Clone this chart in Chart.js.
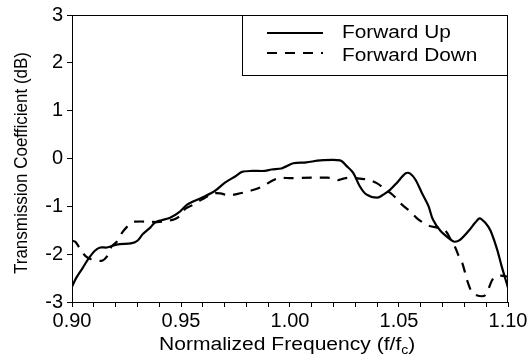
<!DOCTYPE html>
<html>
<head>
<meta charset="utf-8">
<script src="https://cdn.jsdelivr.net/npm/chart.js@4/dist/chart.umd.min.js"></script>
<style>
    body { margin: 0; background: #fff; }
    #wrap { width: 528px; height: 360px; }
</style>
</head>
<body>
<div id="wrap"><canvas id="chart" width="528" height="360"></canvas></div>
<script>
// --- Data ---
const upFreq = [0.900, 0.902, 0.905, 0.9075, 0.9105, 0.913, 0.916, 0.9205, 0.9275, 0.930, 0.9325, 0.936, 0.938, 0.941, 0.945, 0.9495, 0.953, 0.9595, 0.9655, 0.970, 0.975, 0.978, 0.9825, 0.9885, 0.9915, 0.996, 0.998, 1.0015, 1.0075, 1.014, 1.023, 1.026, 1.029, 1.032, 1.035, 1.040, 1.043, 1.046, 1.049, 1.053, 1.055, 1.0575, 1.0605, 1.0635, 1.0655, 1.069, 1.0735, 1.0755, 1.078, 1.082, 1.085, 1.087, 1.0895, 1.092, 1.095, 1.097, 1.100];
const upLoss = [-2.68, -2.49, -2.28, -2.10, -1.93, -1.86, -1.86, -1.80, -1.77, -1.72, -1.58, -1.44, -1.34, -1.29, -1.24, -1.11, -0.96, -0.82, -0.68, -0.51, -0.37, -0.28, -0.26, -0.26, -0.23, -0.21, -0.17, -0.10, -0.08, -0.04, -0.04, -0.16, -0.30, -0.58, -0.75, -0.82, -0.75, -0.65, -0.51, -0.31, -0.31, -0.44, -0.72, -0.99, -1.27, -1.51, -1.69, -1.74, -1.70, -1.51, -1.34, -1.25, -1.34, -1.51, -1.90, -2.24, -2.70];

const downFreq = [0.900, 0.9015, 0.9025, 0.9045, 0.9065, 0.9085, 0.911, 0.9136, 0.916, 0.918, 0.9205, 0.923, 0.925, 0.9275, 0.929, 0.936, 0.939, 0.943, 0.947, 0.950, 0.952, 0.955, 0.9595, 0.965, 0.968, 0.972, 0.976, 0.979, 0.983, 0.987, 0.992, 0.995, 1.000, 1.010, 1.017, 1.0205, 1.022, 1.0245, 1.0275, 1.032, 1.0365, 1.040, 1.043, 1.046, 1.048, 1.050, 1.052, 1.055, 1.058, 1.061, 1.064, 1.067, 1.070, 1.072, 1.074, 1.0757, 1.0775, 1.079, 1.0805, 1.0815, 1.0835, 1.0856, 1.088, 1.0895, 1.091, 1.0933, 1.0963, 1.0985, 1.100];
const downLoss = [-1.72, -1.74, -1.80, -1.95, -2.05, -2.10, -2.12, -2.14, -2.05, -1.85, -1.74, -1.55, -1.44, -1.34, -1.32, -1.32, -1.33, -1.31, -1.27, -1.18, -1.05, -0.98, -0.86, -0.73, -0.73, -0.77, -0.74, -0.71, -0.66, -0.59, -0.46, -0.41, -0.41, -0.40, -0.40, -0.42, -0.45, -0.42, -0.40, -0.42, -0.45, -0.52, -0.62, -0.72, -0.80, -0.90, -0.99, -1.10, -1.24, -1.34, -1.41, -1.44, -1.46, -1.55, -1.72, -1.85, -2.05, -2.18, -2.42, -2.58, -2.80, -2.86, -2.88, -2.86, -2.73, -2.50, -2.45, -2.46, -2.47];

const seriesLabels = ['Forward Up', 'Forward Down'];
const xMajorTicks = [0.90, 0.95, 1.00, 1.05, 1.10];
const yMajorTicks = [-3, -2, -1, 0, 1, 2, 3];

const FONT = '"Liberation Sans", Arial, Helvetica, sans-serif';

function toPoints(xs, ys) {
    return xs.map((x, i) => ({ x: x, y: ys[i] }));
}

// draw text stretched horizontally like the scanned figure
function wideText(ctx, text, x, y, size, k, align) {
    ctx.save();
    ctx.font = size + 'px ' + FONT;
    const w = ctx.measureText(text).width * k;
    ctx.translate(align === 'center' ? x - w / 2 : x, y);
    ctx.scale(k, 1);
    ctx.textAlign = 'left';
    ctx.fillText(text, 0, 0);
    ctx.restore();
    return w;
}

// --- frame, titles and legend ---
const decorPlugin = {
    id: 'decor',
    afterDraw(chart) {
        const ctx = chart.ctx;
        const a = chart.chartArea;
        ctx.save();
        ctx.strokeStyle = '#000';
        ctx.lineWidth = 1;
        ctx.strokeRect(Math.round(a.left) + 0.5, Math.round(a.top) + 0.5,
            Math.round(a.right - a.left) - 1, Math.round(a.bottom - a.top));
        ctx.fillStyle = '#000';
        ctx.textBaseline = 'alphabetic';

        // x title with subscript c
        let x = 159;
        const base = 350;
        x += wideText(ctx, 'Normalized Frequency (f/f', x, base, 18, 1.17);
        x += wideText(ctx, 'c', x, base + 4, 12, 1.17);
        wideText(ctx, ')', x, base, 18, 1.17);

        // y title, rotated
        ctx.save();
        ctx.translate(26.5, 163);
        ctx.scale(1.12, 1);
        ctx.rotate(-Math.PI / 2);
        ctx.font = '17px ' + FONT;
        ctx.textAlign = 'center';
        ctx.fillText('Transmission Coefficient (dB)', 0, 0);
        ctx.restore();

        // legend box
        const lx = 242, ly = Math.round(a.top), lr = Math.round(a.right);
        ctx.fillStyle = '#fff';
        ctx.fillRect(lx, ly, lr - lx, 60);
        ctx.strokeRect(lx + 0.5, ly + 0.5, lr - lx - 1, 60);
        ctx.fillStyle = '#000';
        chart.data.datasets.forEach((ds, i) => {
            const yy = 33 + i * 20;
            ctx.beginPath();
            ctx.lineWidth = ds.borderWidth;
            ctx.setLineDash(ds.borderDash || []);
            ctx.moveTo(267, yy);
            ctx.lineTo(323, yy);
            ctx.stroke();
            ctx.setLineDash([]);
            wideText(ctx, ds.label, 342, 38 + i * 22.5, 17.5, 1.19);
        });
        ctx.restore();
    }
};

const ctxChart = document.getElementById('chart');
new Chart(ctxChart, {
    type: 'line',
    data: {
        datasets: [{
            label: seriesLabels[0],
            data: toPoints(upFreq, upLoss),
            borderColor: '#000',
            borderWidth: 2.2,
            pointRadius: 0,
            tension: 0.3,
            fill: false
        }, {
            label: seriesLabels[1],
            data: toPoints(downFreq, downLoss),
            borderColor: '#000',
            borderWidth: 2.2,
            borderDash: [10, 8],
            pointRadius: 0,
            tension: 0.3,
            fill: false
        }]
    },
    options: {
        responsive: false,
        animation: false,
        layout: { padding: { top: 15, right: 20, left: 0, bottom: 0 } },
        plugins: {
            legend: { display: false },
            tooltip: { enabled: false }
        },
        scales: {
            x: {
                type: 'linear',
                min: 0.90,
                max: 1.10,
                afterFit: s => { s.height = 58; s.paddingLeft = 0; s.paddingRight = 0; },
                grid: { drawOnChartArea: false, tickLength: 5, color: '#000' },
                border: { color: '#000', width: 1 },
                ticks: {
                    stepSize: 0.01,
                    autoSkip: false,
                    maxRotation: 0,
                    maxTicksLimit: 100,
                    padding: 2,
                    color: '#000',
                    font: { family: FONT, size: 20 },
                    callback: v => xMajorTicks.some(t => Math.abs(t - v) < 1e-6) ? v.toFixed(2) : ''
                }
            },
            y: {
                min: -3,
                max: 3,
                afterFit: s => { s.width = 72; s.paddingTop = 0; s.paddingBottom = 0; },
                grid: { drawOnChartArea: false, tickLength: 5, color: '#000' },
                border: { color: '#000', width: 1 },
                ticks: {
                    stepSize: 0.5,
                    padding: 4,
                    color: '#000',
                    font: { family: FONT, size: 20 },
                    callback: v => yMajorTicks.includes(v) ? String(v) : ''
                }
            }
        }
    },
    plugins: [decorPlugin]
});
</script>
</body>
</html>
